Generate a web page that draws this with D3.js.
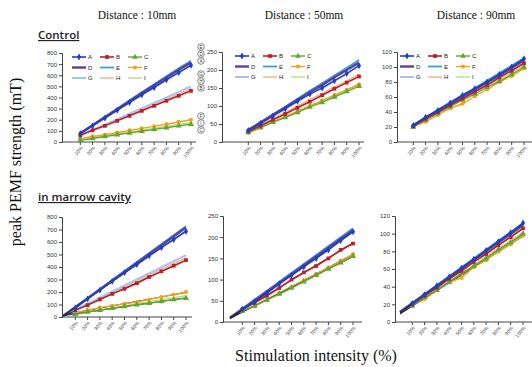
<!DOCTYPE html>
<html>
<head>
<meta charset="utf-8">
<script src="https://cdn.jsdelivr.net/npm/d3@7/dist/d3.min.js"></script>
<style>
  body { margin: 0; background: #fff; }
  svg { display: block; }
</style>
</head>
<body>
<svg id="chart" width="532" height="367"></svg>
<script>
// stimulation intensity (%), one point per category
const categories = [10, 20, 30, 40, 50, 60, 70, 80, 90, 100];
const seriesNames = ['A', 'B', 'C', 'D', 'E', 'F', 'G', 'H', 'I'];

// rows follow seriesNames: A B C D E F G H I
const control10 = [
  [75, 145, 215, 285, 355, 425, 490, 560, 625, 690],
  [60, 105, 145, 190, 235, 280, 325, 370, 415, 460],
  [15, 32, 50, 65, 82, 97, 113, 128, 145, 160],
  [78, 150, 222, 295, 367, 440, 510, 580, 650, 715],
  [80, 153, 227, 300, 375, 447, 520, 592, 663, 730],
  [30, 50, 65, 85, 105, 122, 140, 160, 180, 200],
  [62, 110, 158, 205, 255, 305, 352, 400, 450, 500],
  [60, 107, 153, 198, 245, 290, 338, 385, 432, 480],
  [20, 38, 55, 72, 90, 107, 123, 140, 158, 175]
];
const control50 = [
  [32, 52, 72, 92, 113, 133, 150, 170, 190, 212],
  [30, 45, 62, 78, 95, 112, 130, 148, 165, 182],
  [27, 40, 55, 68, 82, 97, 110, 125, 140, 155],
  [33, 54, 75, 96, 117, 138, 158, 180, 200, 220],
  [34, 55, 77, 98, 120, 142, 163, 185, 206, 228],
  [25, 40, 55, 70, 85, 100, 115, 130, 145, 160],
  [33, 55, 76, 97, 118, 140, 161, 182, 203, 225],
  [31, 48, 65, 82, 100, 118, 135, 153, 170, 188],
  [28, 42, 57, 71, 86, 100, 115, 130, 145, 162]
];
const control90 = [
  [22, 33, 42, 52, 62, 71, 80, 90, 100, 111],
  [21, 31, 40, 49, 58, 67, 76, 86, 95, 105],
  [20, 29, 38, 47, 56, 64, 73, 81, 90, 100],
  [22, 32, 42, 51, 61, 70, 80, 89, 99, 109],
  [23, 33, 43, 53, 63, 72, 82, 92, 102, 112],
  [21, 27, 36, 45, 51, 61, 70, 80, 88, 98],
  [22, 33, 43, 52, 62, 71, 81, 91, 101, 110],
  [21, 31, 41, 50, 59, 69, 78, 87, 96, 106],
  [20, 30, 39, 48, 57, 66, 75, 83, 92, 102]
];
const marrow10 = [
  [72, 145, 215, 285, 355, 420, 490, 555, 620, 685],
  [55, 95, 140, 185, 225, 270, 320, 365, 410, 455],
  [20, 40, 55, 70, 85, 98, 110, 125, 140, 150],
  [75, 148, 220, 292, 363, 435, 505, 575, 645, 712],
  [78, 152, 225, 298, 370, 442, 515, 585, 655, 722],
  [35, 55, 75, 90, 105, 120, 140, 160, 180, 200],
  [60, 108, 155, 203, 252, 300, 348, 397, 447, 497],
  [58, 105, 150, 196, 242, 288, 335, 382, 428, 475],
  [25, 42, 58, 74, 90, 106, 122, 138, 155, 172]
];
const marrow50 = [
  [30, 48, 68, 90, 110, 130, 150, 170, 192, 213],
  [30, 45, 62, 80, 100, 117, 132, 150, 170, 185],
  [26, 38, 52, 66, 80, 95, 110, 125, 140, 155],
  [31, 51, 71, 92, 112, 133, 154, 175, 196, 217],
  [32, 52, 73, 94, 115, 136, 157, 178, 200, 222],
  [25, 38, 52, 68, 83, 98, 113, 128, 145, 160],
  [32, 53, 74, 95, 116, 137, 158, 179, 200, 221],
  [30, 47, 64, 82, 100, 117, 134, 152, 169, 187],
  [27, 40, 54, 68, 82, 97, 112, 127, 142, 157]
];
const marrow90 = [
  [21, 31, 41, 51, 61, 71, 81, 91, 101, 112],
  [20, 30, 39, 49, 58, 68, 77, 87, 96, 106],
  [18, 28, 36, 45, 55, 63, 72, 82, 90, 100],
  [21, 31, 41, 51, 60, 70, 80, 90, 100, 110],
  [22, 32, 42, 52, 62, 72, 82, 92, 102, 112],
  [19, 26, 36, 45, 50, 62, 70, 80, 88, 98],
  [21, 31, 41, 51, 61, 71, 81, 91, 101, 111],
  [20, 30, 40, 49, 59, 68, 78, 88, 97, 107],
  [19, 29, 38, 47, 56, 65, 74, 83, 92, 102]
];

const ticks800 = [0, 100, 200, 300, 400, 500, 600, 700, 800];
const ticks250 = [0, 50, 100, 150, 200, 250];
const ticks120 = [0, 20, 40, 60, 80, 100, 120];

const titles = ['Distance : 10mm', 'Distance : 50mm', 'Distance : 90mm'];
const rowLabels = ['Control', 'in marrow cavity'];
const endTags = [['E', 'D', 'A'], ['G', 'H', 'B'], ['F', 'I', 'C']];

const colors = {
  A: '#1f3fc4', B: '#bf1e22', C: '#5ea832', D: '#5a3f9c', E: '#3b9de0',
  F: '#f2a21e', G: '#a8c4ee', H: '#f2b596', I: '#b6da78'
};
const widths = { A: 1.6, B: 1.6, C: 1.4, D: 2.4, E: 1.8, F: 1.4, G: 2, H: 1.5, I: 1.3 };
const markers = { A: d3.symbolDiamond, B: d3.symbolSquare, C: d3.symbolTriangle, F: d3.symbolCircle };

const svg = d3.select('#chart');

// layout of the six panels
const panels = [
  { data: control10, ticks: ticks800, axisX: 62, x0: 68, top: 53, bottom: 142, right: 196, legend: 72, trend: false },
  { data: control50, ticks: ticks250, axisX: 222, x0: 236, top: 52, bottom: 142, right: 364, legend: 235, trend: false },
  { data: control90, ticks: ticks120, axisX: 397, x0: 401, top: 52, bottom: 142, right: 532, legend: 400, trend: false },
  { data: marrow10, ticks: ticks800, axisX: 62, x0: 63, top: 217, bottom: 317, right: 192, legend: null, trend: true },
  { data: marrow50, ticks: ticks250, axisX: 223, x0: 230, top: 216, bottom: 322, right: 362, legend: null, trend: true },
  { data: marrow90, ticks: ticks120, axisX: 395, x0: 400, top: 216, bottom: 322, right: 532, legend: null, trend: true }
];

const drawOrder = ['I', 'H', 'G', 'F', 'E', 'D', 'C', 'B', 'A'];

function fit(vals) {
  const mx = d3.mean(categories), my = d3.mean(vals);
  let sxy = 0, sxx = 0;
  categories.forEach((c, i) => { sxy += (c - mx) * (vals[i] - my); sxx += (c - mx) * (c - mx); });
  const b = sxy / sxx;
  return { a: my - b * mx, b: b };
}

panels.forEach(p => {
  const g = svg.append('g');
  const x = d3.scaleLinear().domain([0, 100]).range([p.x0, p.x0 + 123]);
  const y = d3.scaleLinear().domain([0, d3.max(p.ticks)]).range([p.bottom, p.top]);

  // y axis
  const ya = g.append('g')
    .attr('transform', `translate(${p.axisX},0)`)
    .call(d3.axisLeft(y).tickValues(p.ticks).tickSize(3).tickPadding(2));
  ya.select('.domain').attr('stroke', '#444').attr('stroke-width', 1);
  ya.selectAll('.tick line').attr('stroke', '#444');
  ya.selectAll('.tick text').attr('font-size', 6).attr('fill', '#333')
    .attr('font-family', 'Liberation Sans, Arial, sans-serif');

  // x axis
  const xa = g.append('g').attr('transform', `translate(0,${p.bottom})`);
  xa.append('line').attr('x1', p.axisX).attr('x2', p.right).attr('stroke', '#444').attr('stroke-width', 1);
  xa.selectAll('line.t').data(categories).join('line').attr('class', 't')
    .attr('x1', d => x(d)).attr('x2', d => x(d)).attr('y1', 0).attr('y2', 3)
    .attr('stroke', '#444');
  xa.selectAll('text').data(categories).join('text')
    .attr('transform', d => `translate(${x(d) + 1.5},5) rotate(-50)`)
    .attr('text-anchor', 'end').attr('dy', '0.35em')
    .attr('font-size', 5).attr('fill', '#444')
    .attr('font-family', 'Liberation Sans, Arial, sans-serif')
    .text(d => d + '%');

  const line = d3.line().x((d, i) => x(categories[i])).y(d => y(d));

  drawOrder.forEach(name => {
    const k = seriesNames.indexOf(name);
    const vals = p.data[k];
    const col = colors[name];
    if (p.trend) {
      const f = fit(vals);
      g.append('line')
        .attr('x1', x(0)).attr('y1', y(f.a))
        .attr('x2', x(100)).attr('y2', y(f.a + f.b * 100))
        .attr('stroke', markers[name] ? '#1c1c3c' : col)
        .attr('stroke-width', markers[name] ? 0.9 : widths[name]);
      if (!markers[name]) return;
    }
    g.append('path').datum(vals).attr('d', line)
      .attr('fill', 'none').attr('stroke', col).attr('stroke-width', widths[name]);
    if (markers[name]) {
      g.selectAll(null).data(vals).join('path')
        .attr('transform', (d, i) => `translate(${x(categories[i])},${y(d)})`)
        .attr('d', d3.symbol().type(markers[name]).size(name === 'C' ? 16 : 14))
        .attr('fill', col);
    }
  });

  // legend
  if (p.legend !== null) {
    const lg = g.append('g');
    seriesNames.forEach((name, i) => {
      const lx = p.legend + (i % 3) * 28;
      const ly = p.top + 4 + Math.floor(i / 3) * 10.5;
      lg.append('line').attr('x1', lx).attr('x2', lx + 14).attr('y1', ly).attr('y2', ly)
        .attr('stroke', colors[name]).attr('stroke-width', widths[name]);
      if (markers[name]) {
        lg.append('path').attr('transform', `translate(${lx + 7},${ly})`)
          .attr('d', d3.symbol().type(markers[name]).size(14)).attr('fill', colors[name]);
      }
      lg.append('text').attr('x', lx + 16).attr('y', ly).attr('dy', '0.35em')
        .attr('font-size', 6).attr('fill', '#222')
        .attr('font-family', 'Liberation Sans, Arial, sans-serif').text(name);
    });
  }
});

// circled tags next to the first panel
const tagY = [[47, 54, 61], [74, 81, 88], [116, 123, 130]];
endTags.forEach((grp, gi) => grp.forEach((t, ti) => {
  const cy = tagY[gi][ti];
  svg.append('circle').attr('cx', 201).attr('cy', cy).attr('r', 3.3)
    .attr('fill', '#fff').attr('stroke', '#555').attr('stroke-width', 0.7);
  svg.append('text').attr('x', 201).attr('y', cy).attr('dy', '0.35em')
    .attr('text-anchor', 'middle').attr('font-size', 4.5).attr('fill', '#333')
    .attr('font-family', 'Liberation Sans, Arial, sans-serif').text(t);
}));

// titles
const titleX = [137, 304, 476];
titles.forEach((t, i) => {
  svg.append('text').attr('x', titleX[i]).attr('y', 19).attr('text-anchor', 'middle')
    .attr('font-family', 'Liberation Serif, Times New Roman, serif').attr('font-size', 11.5)
    .attr('fill', '#111').text(t);
});

// row labels
[39, 201].forEach((yy, i) => {
  svg.append('text').attr('x', 38).attr('y', yy)
    .attr('font-family', 'Open Sans, Liberation Sans, sans-serif').attr('font-size', 11.5)
    .attr('font-weight', 600).attr('fill', '#222')
    .attr('text-decoration', 'underline').text(rowLabels[i]);
});

// axis titles
svg.append('text')
  .attr('transform', 'translate(21,162) rotate(-90)')
  .attr('text-anchor', 'middle')
  .attr('font-family', 'Liberation Serif, Times New Roman, serif').attr('font-size', 16)
  .attr('fill', '#111').text('peak PEMF strength (mT)');

svg.append('text').attr('x', 316).attr('y', 361).attr('text-anchor', 'middle')
  .attr('font-family', 'Liberation Serif, Times New Roman, serif').attr('font-size', 16)
  .attr('fill', '#111').text('Stimulation intensity (%)');
</script>
</body>
</html>
